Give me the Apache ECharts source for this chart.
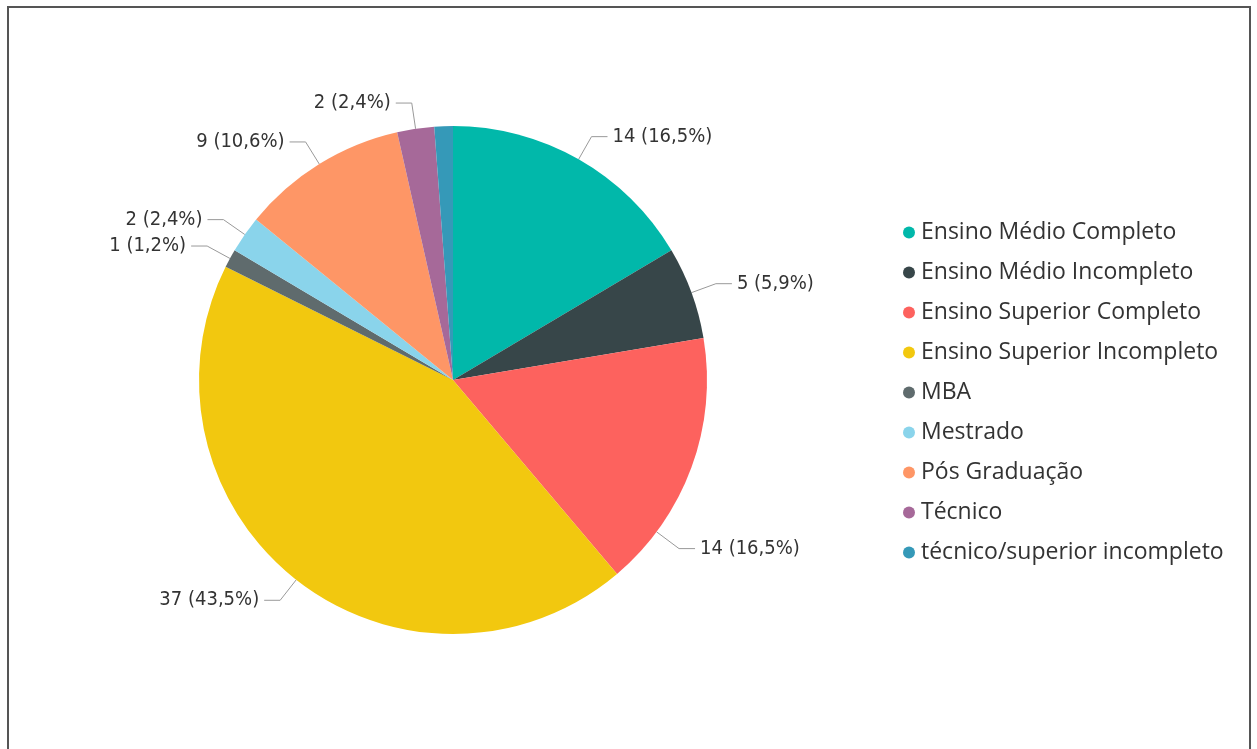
<!DOCTYPE html>
<html>
<head>
<meta charset="utf-8">
<script src="https://cdn.jsdelivr.net/npm/echarts@6/dist/echarts.min.js"></script>
<style>
  html, body { margin: 0; padding: 0; background: #fff; }
  #frame { position: absolute; left: 7px; top: 6px; width: 1244px; height: 760px;
           border: 2px solid #555; border-bottom: none; box-sizing: border-box; background: #fff; }
  #chart { position: absolute; left: 0; top: 0; width: 1257px; height: 749px; }
</style>
</head>
<body>
<div id="frame"></div>
<div id="chart"></div>
<script>
// Escolaridade: categorias, contagens e cores
const categories = [
  'Ensino Médio Completo',
  'Ensino Médio Incompleto',
  'Ensino Superior Completo',
  'Ensino Superior Incompleto',
  'MBA',
  'Mestrado',
  'Pós Graduação',
  'Técnico',
  'técnico/superior incompleto'
];
const counts = [14, 5, 14, 37, 1, 2, 9, 2, 1];
const colors = ['#01B8AA', '#374649', '#FD625E', '#F2C80F', '#5F6B6D', '#8AD4EB', '#FE9666', '#A66999', '#3599B8'];
// rótulo oculto para a fatia muito pequena do topo
const hiddenLabels = ['técnico/superior incompleto'];

const CENTER = [453, 380];
const RADIUS = 254;
const LINE1 = 26;   // trecho radial da linha guia
const LINE2 = 16;   // trecho horizontal da linha guia

const total = counts.reduce((a, b) => a + b, 0);
const data = categories.map((name, i) => ({
  name,
  value: counts[i],
  itemStyle: { color: colors[i] },
  label: { show: !hiddenLabels.includes(name) },
  labelLine: { show: !hiddenLabels.includes(name) }
}));

// ângulo de ancoragem (graus, horário a partir do topo) para o rótulo do Ensino Superior Completo,
// deslocado para perto da borda inferior da fatia
function anchorAngle(idx) {
  let start = 0;
  for (let i = 0; i < idx; i++) start += counts[i];
  const a0 = start / total * 360, a1 = (start + counts[idx]) / total * 360;
  return a0 + (a1 - a0) * 0.78;
}

const chart = echarts.init(document.getElementById('chart'), null, { renderer: 'canvas' });
chart.setOption({
  animation: false,
  legend: {
    orient: 'vertical',
    left: 898,
    top: 216,
    itemWidth: 12,
    itemHeight: 12,
    itemGap: 17,
    icon: 'circle',
    textStyle: { fontFamily: 'Open Sans', fontSize: 23, color: '#333', lineHeight: 23, padding: [0, 0, 0, 1] },
    data: categories
  },
  series: [{
    type: 'pie',
    center: CENTER,
    radius: RADIUS,
    startAngle: 90,
    clockwise: true,
    avoidLabelOverlap: true,
    data,
    label: {
      formatter: p => p.value + ' (' + (p.value / total * 100).toFixed(1).replace('.', ',') + '%)',
      fontFamily: 'DejaVu Sans Condensed',
      fontSize: 20,
      color: '#333'
    },
    labelLine: {
      length: LINE1,
      length2: LINE2,
      lineStyle: { color: '#999', width: 1 }
    },
    labelLayout: params => {
      if (params.dataIndex !== 2) return {};
      const a = anchorAngle(2) * Math.PI / 180;
      const sx = Math.sin(a), sy = -Math.cos(a);
      const p0 = [CENTER[0] + RADIUS * sx, CENTER[1] + RADIUS * sy];
      const p1 = [CENTER[0] + (RADIUS + LINE1 + 2) * sx, CENTER[1] + (RADIUS + LINE1 + 2) * sy];
      const p2 = [p1[0] + LINE2, p1[1]];
      return {
        x: p2[0] + 5,
        y: p2[1],
        align: 'left',
        verticalAlign: 'middle',
        labelLinePoints: [p0, p1, p2]
      };
    }
  }]
});
</script>
</body>
</html>
